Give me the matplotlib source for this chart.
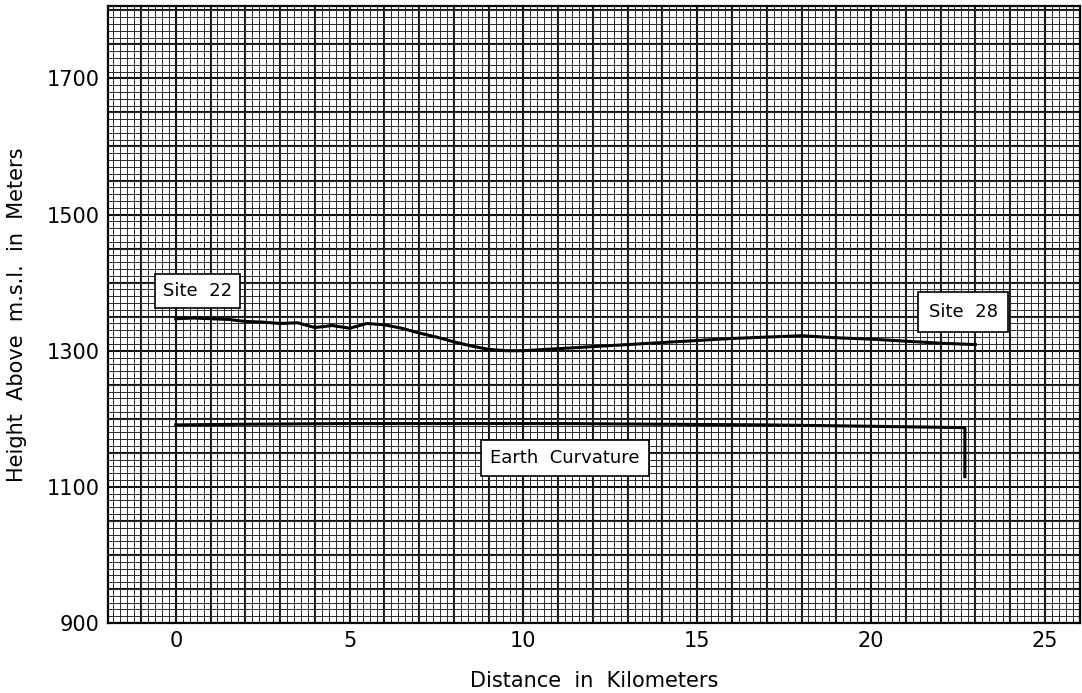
"""
    Terrain profile between Site 22 and Site 28 on graph paper
"""
from matplotlib import pyplot as plt

# terrain profile (km, m)
profile_km = [0, 0.5, 1, 1.5, 2, 2.5, 3, 3.5, 4, 4.5, 5, 5.5, 6, 6.5, 7, 7.5,
              8, 8.5, 9, 9.5, 10, 11, 12, 13, 14, 15, 16, 17, 18, 19, 20,
              21, 22, 23]
profile_m = [1347, 1348, 1347, 1346, 1343, 1342, 1340, 1341, 1334, 1337,
             1333, 1340, 1338, 1333, 1326, 1320, 1313, 1307, 1302, 1300,
             1300, 1303, 1306, 1309, 1312, 1315, 1318, 1320, 1322, 1319,
             1317, 1314, 1311, 1309]

# earth curvature reference line
curve_km = [0, 2, 5, 8, 11, 14, 17, 20, 22.7, 22.7]
curve_m = [1191, 1192, 1193, 1193, 1193, 1192, 1191, 1189, 1187, 1115]

labels = ["Site  22", "Site  28", "Earth  Curvature"]
label_km = [0.63, 22.65, 11.2]
label_m = [1388, 1357, 1143]
label_pad = [0.45, 0.6, 0.5]

x_ticks = [0, 5, 10, 15, 20, 25]
y_ticks = [900, 1100, 1300, 1500, 1700]


def main():
    fig = plt.figure(figsize=(10.82, 6.93), dpi=100)
    ax = fig.add_axes([0.0998, 0.101, 0.898, 0.890])

    ax.set_xlim(-1.95, 26.0)
    ax.set_ylim(900, 1806)

    # graph paper: fine 0.2 km x 10 m, heavy 1 km x 50 m
    ax.set_xticks(x_ticks)
    ax.set_yticks(y_ticks)
    ax.set_xticks([k / 5 for k in range(-9, 130)], minor=True)
    ax.set_yticks(list(range(900, 1810, 10)), minor=True)
    ax.grid(which='minor', color='#2a2a2a', lw=0.7)
    ax.set_axisbelow(True)
    for x in range(-1, 27):
        ax.axvline(x, color='#111111', lw=1.5, zorder=0.5)
    for y in range(900, 1810, 50):
        ax.axhline(y, color='#111111', lw=1.5, zorder=0.5)
    ax.tick_params(which='both', length=0)

    ax.plot(profile_km, profile_m, color='black', lw=2.2, zorder=3)
    ax.plot(curve_km, curve_m, color='black', lw=2.2, zorder=3)

    for txt, x, y, p in zip(labels, label_km, label_m, label_pad):
        ax.text(x, y, txt, ha='center', va='center', fontsize=13, zorder=4,
                bbox=dict(boxstyle='square,pad=%s' % p, fc='white',
                          ec='black', lw=1.2))

    for s in ax.spines.values():
        s.set_linewidth(1.6)

    ax.tick_params(labelsize=15, pad=6)
    ax.set_xlabel("Distance  in  Kilometers", fontsize=15, labelpad=14)
    ax.set_ylabel("Height  Above  m.s.l.  in  Meters", fontsize=15,
                  labelpad=14)

    plt.savefig('out.png', dpi=100)


if __name__ == "__main__":
    main()
